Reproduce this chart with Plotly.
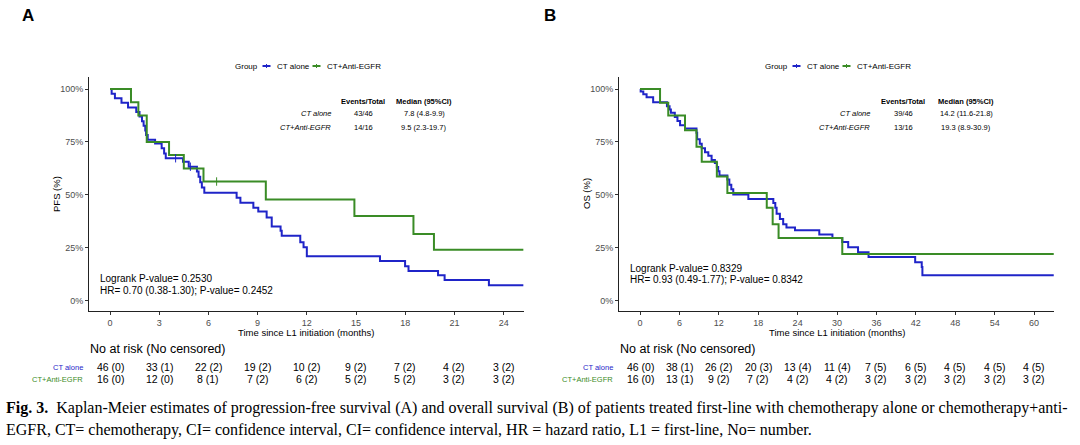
import plotly.graph_objects as go

W, H = 1080, 445

# ---------------- data ----------------
# Panel A: progression-free survival (months, survival fraction)
pfs_ct_t = [0, 0.1, 0.3, 0.7, 1.1, 1.6, 1.8, 1.95, 2.05, 2.15, 2.2, 2.3, 2.75,
            3.15, 3.3, 3.4, 4.45, 4.8, 5.3, 5.4, 5.5, 5.6, 5.75,
            7.72, 7.95, 8.74, 9.04, 9.55, 9.86, 10.4, 10.47, 11.6, 11.8, 12.0,
            16.46, 17.99, 18.2, 20.0, 20.4, 23.1, 25.2]
pfs_ct_s = [1.0, 0.978, 0.957, 0.935, 0.913, 0.891, 0.870, 0.848, 0.826, 0.804, 0.783, 0.761, 0.743,
            0.720, 0.696, 0.673, 0.657, 0.633, 0.610, 0.585, 0.560, 0.535, 0.510,
            0.486, 0.463, 0.439, 0.421, 0.393, 0.350, 0.330, 0.307, 0.276, 0.252, 0.210,
            0.187, 0.162, 0.140, 0.120, 0.097, 0.073, 0.073]
pfs_eg_t = [0, 1.28, 1.73, 2.24, 3.6, 4.5, 5.7, 9.5, 14.9, 18.5, 19.75, 25.2]
pfs_eg_s = [1.0, 0.938, 0.875, 0.750, 0.688, 0.625, 0.563, 0.478, 0.400, 0.315, 0.240, 0.240]
pfs_ct_cens_t = [4.0, 4.9]
pfs_ct_cens_s = [0.673, 0.633]
pfs_eg_cens_t = [6.5]
pfs_eg_cens_s = [0.563]

# Panel B: overall survival
os_ct_t = [0, 0.1, 0.5, 1.0, 2.0, 4.1, 4.5, 4.7, 5.3, 5.7, 6.1, 6.85, 8.6, 8.7, 9.1,
           9.4, 9.9, 10.4, 10.9, 11.4, 11.7, 11.9, 12.1, 13.3, 13.6, 13.9, 14.2, 16.5,
           20.3, 20.6, 20.8, 21.3, 21.8, 22.3, 23.6, 27.3, 29.3, 30.8, 31.7, 33.2,
           34.8, 41.9, 42.9, 43.0, 63.0]
os_ct_s = [1.0, 0.988, 0.975, 0.961, 0.938, 0.919, 0.903, 0.888, 0.868, 0.849, 0.829, 0.813,
           0.794, 0.763, 0.741, 0.720, 0.701, 0.685, 0.665, 0.651, 0.632, 0.611, 0.592,
           0.573, 0.548, 0.526, 0.502, 0.480, 0.461, 0.439, 0.411, 0.386, 0.361, 0.346,
           0.333, 0.312, 0.296, 0.277, 0.252, 0.229, 0.206, 0.182, 0.159, 0.120, 0.120]
os_eg_t = [0, 3.05, 4.3, 6.85, 8.6, 9.4, 11.7, 13.3, 19.3, 20.2, 21.1, 30.8, 63.0]
os_eg_s = [1.0, 0.935, 0.875, 0.805, 0.727, 0.657, 0.587, 0.509, 0.439, 0.361, 0.296, 0.221, 0.221]

# risk tables
risk_a_times = [0, 3, 6, 9, 12, 15, 18, 21, 24]
risk_a_ct_n = [46, 33, 22, 19, 10, 9, 7, 4, 3]
risk_a_ct_c = [0, 1, 2, 2, 2, 2, 2, 2, 2]
risk_a_eg_n = [16, 12, 8, 7, 6, 5, 5, 3, 3]
risk_a_eg_c = [0, 0, 1, 2, 2, 2, 2, 2, 2]

risk_b_times = [0, 6, 12, 18, 24, 30, 36, 42, 48, 54, 60]
risk_b_ct_n = [46, 38, 26, 20, 13, 11, 7, 6, 4, 4, 4]
risk_b_ct_c = [0, 1, 2, 3, 4, 4, 5, 5, 5, 5, 5]
risk_b_eg_n = [16, 13, 9, 7, 4, 4, 3, 3, 3, 3, 3]
risk_b_eg_c = [0, 1, 2, 2, 2, 2, 2, 2, 2, 2, 2]

group_names = ["CT alone", "CT+Anti-EGFR"]
stats_a = [["43/46", "7.8 (4.8-9.9)"], ["14/16", "9.5 (2.3-19.7)"]]
stats_b = [["39/46", "14.2 (11.6-21.8)"], ["13/16", "19.3 (8.9-30.9)"]]
logrank_a = ["Logrank P-value= 0.2530", "HR= 0.70 (0.38-1.30); P-value= 0.2452"]
logrank_b = ["Logrank P-value= 0.8329", "HR= 0.93 (0.49-1.77); P-value= 0.8342"]

caption_1 = ("<b>Fig. 3.</b>  Kaplan-Meier estimates of progression-free survival (A) and overall survival (B) "
             "of patients treated first-line with chemotherapy alone or chemotherapy+anti-")
caption_2 = ("EGFR, CT= chemotherapy, CI= confidence interval, CI= confidence interval, "
             "HR = hazard ratio, L1 = first-line, No= number.")

# ---------------- style ----------------
BLUE = "#1f24c8"
GREEN = "#3a8c26"
FONT = "Liberation Sans"
GREY = "#4d4d4d"


def px(x):
    return x / W


def py(y):
    return 1 - y / H


fig = go.Figure()

# curves
for t, s, col, ax in [
    (pfs_ct_t, pfs_ct_s, BLUE, ("x", "y")),
    (pfs_eg_t, pfs_eg_s, GREEN, ("x", "y")),
    (os_ct_t, os_ct_s, BLUE, ("x2", "y2")),
    (os_eg_t, os_eg_s, GREEN, ("x2", "y2")),
]:
    fig.add_trace(go.Scatter(x=t, y=s, mode="lines", line=dict(color=col, width=2, shape="hv"),
                             xaxis=ax[0], yaxis=ax[1], showlegend=False, hoverinfo="skip"))

for t, s, col in [(pfs_ct_cens_t, pfs_ct_cens_s, BLUE), (pfs_eg_cens_t, pfs_eg_cens_s, GREEN)]:
    fig.add_trace(go.Scatter(x=t, y=s, mode="markers",
                             marker=dict(symbol="line-ns", size=6, line=dict(color=col, width=1)),
                             xaxis="x", yaxis="y", showlegend=False, hoverinfo="skip"))

# axes geometry (pixels)
A_L, A_R = 89, 524
B_L, B_R = 619, 1054
TOP, BOT = 77, 311

axis_common = dict(showline=True, linecolor="#222", linewidth=1, ticks="outside", ticklen=3,
                   tickcolor="#333", tickfont=dict(family=FONT, size=9, color=GREY),
                   showgrid=False, zeroline=False)

fig.update_layout(
    width=W, height=H, margin=dict(l=0, r=0, t=0, b=0),
    paper_bgcolor="white", plot_bgcolor="white", showlegend=False,
    font=dict(family=FONT, color="black"),
    xaxis=dict(domain=[px(A_L), px(A_R)], range=[-1.28, 25.24], tickvals=risk_a_times,
               anchor="y", **axis_common),
    yaxis=dict(domain=[py(BOT), py(TOP)], range=[-0.049, 1.057], tickvals=[0, 0.25, 0.5, 0.75, 1],
               tickformat=".0%", anchor="x", **axis_common),
    xaxis2=dict(domain=[px(B_L), px(B_R)], range=[-3.2, 63.04], tickvals=risk_b_times,
                anchor="y2", **axis_common),
    yaxis2=dict(domain=[py(BOT), py(TOP)], range=[-0.049, 1.057], tickvals=[0, 0.25, 0.5, 0.75, 1],
                tickformat=".0%", anchor="x2", **axis_common),
)

ann = []
shapes = []


def text(x, y, s, size, anchor="center", color="black", family=FONT):
    ann.append(dict(x=px(x), y=py(y), xref="paper", yref="paper", text=s, showarrow=False,
                    xanchor=anchor, yanchor="middle", font=dict(family=family, size=size, color=color)))


# panel letters
text(28, 16, "<b>A</b>", 17)
text(550, 16, "<b>B</b>", 17)

# per-panel elements
for (L, R, xa, ylab, stats, lr, lr_y, tx, ctn, ctc, egn, egc, stat_lab_x, col1_x, col2_x) in [
    (A_L, A_R, "x", "PFS (%)", stats_a, logrank_a, (278, 290), risk_a_times,
     risk_a_ct_n, risk_a_ct_c, risk_a_eg_n, risk_a_eg_c, 333, 363, 424),
    (B_L, B_R, "x2", "OS (%)", stats_b, logrank_b, (268, 279), risk_b_times,
     risk_b_ct_n, risk_b_ct_c, risk_b_eg_n, risk_b_eg_c, 872, 903, 966),
]:
    cx = (L + R) / 2
    # legend
    lx = cx - 74
    text(lx, 66, "Group", 8, anchor="left")
    seg = [(lx + 30, BLUE, "CT alone"), (lx + 80, GREEN, "CT+Anti-EGFR")]
    for sx, col, lab in seg:
        shapes.append(dict(type="line", xref="paper", yref="paper", x0=px(sx), x1=px(sx + 8),
                           y0=py(66), y1=py(66), line=dict(color=col, width=2)))
        shapes.append(dict(type="line", xref="paper", yref="paper", x0=px(sx + 4), x1=px(sx + 4),
                           y0=py(64), y1=py(68), line=dict(color=col, width=1)))
        text(sx + 12, 66, lab, 8, anchor="left")
    # y title
    ann.append(dict(x=px(L - 33), y=py((TOP + BOT) / 2), xref="paper", yref="paper", text=ylab,
                    showarrow=False, textangle=-90, xanchor="center", yanchor="middle",
                    font=dict(family=FONT, size=9.5, color="black")))
    # x title
    text(cx, 332, "Time since L1 initiation (months)", 9.5)
    # stats table
    text(col1_x, 102, "<b>Events/Total</b>", 7.5)
    text(col2_x, 102, "<b>Median (95%CI)</b>", 7.5)
    for i, g in enumerate(group_names):
        yy = 114 + 13 * i
        text(stat_lab_x, yy, "<i>" + g + "</i>", 7.5, anchor="right")
        text(col1_x, yy, stats[i][0], 7.5)
        text(col2_x, yy, stats[i][1], 7.5)
    # logrank
    text(L + 9, lr_y[0], lr[0], 10, anchor="left")
    text(L + 9, lr_y[1], lr[1], 10, anchor="left")
    # risk table
    text(L - 1, 349, "No at risk (No censored)", 12.5, anchor="left")
    text(L - 4, 367, group_names[0], 7.5, anchor="right", color=BLUE)
    text(L - 4, 379, group_names[1], 7.5, anchor="right", color=GREEN)
    for t, n, c in zip(tx, ctn, ctc):
        ann.append(dict(x=t, y=py(367), xref=xa, yref="paper", text=f"{n} ({c})", showarrow=False,
                        xanchor="center", yanchor="middle", font=dict(family=FONT, size=10.5, color="black")))
    for t, n, c in zip(tx, egn, egc):
        ann.append(dict(x=t, y=py(379), xref=xa, yref="paper", text=f"{n} ({c})", showarrow=False,
                        xanchor="center", yanchor="middle", font=dict(family=FONT, size=10.5, color="black")))

# caption
text(4, 408, caption_1, 16, anchor="left", family="Liberation Serif")
text(4, 430, caption_2, 16, anchor="left", family="Liberation Serif")

fig.update_layout(annotations=ann, shapes=shapes)
fig.write_html("out.html")
